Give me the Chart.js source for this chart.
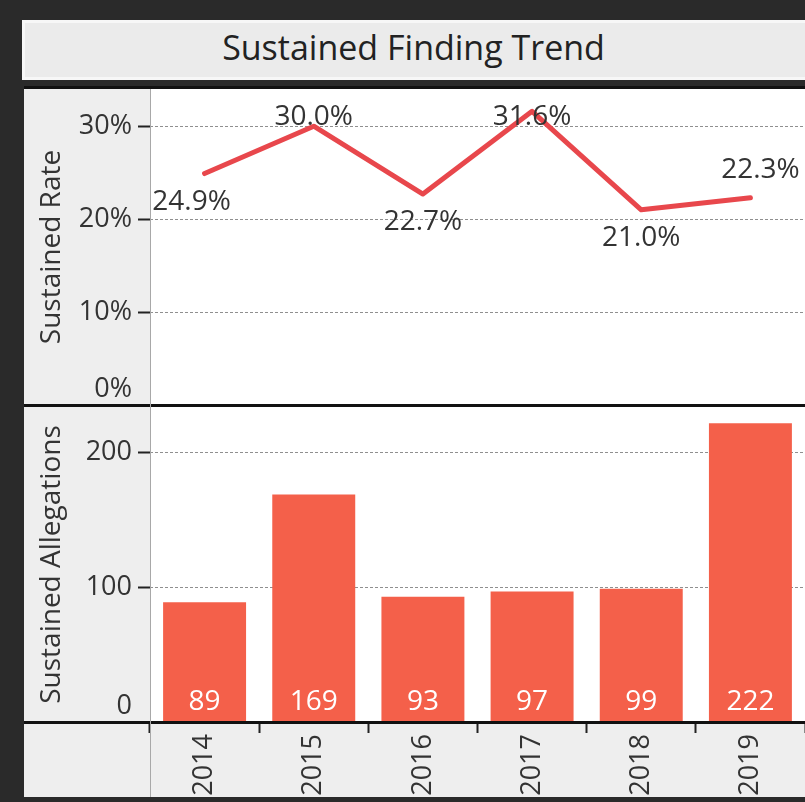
<!DOCTYPE html>
<html>
<head>
<meta charset="utf-8">
<script src="https://cdn.jsdelivr.net/npm/chart.js@4.4.1/dist/chart.umd.min.js"></script>
<style>
  html, body { margin: 0; padding: 0; width: 100%; height: 100%; overflow: hidden; background: #2a2a2a; }
  body { position: relative; font-family: "Open Sans", sans-serif; }
  .title { position: absolute; left: 22px; top: 20px; width: 820px; height: 60px; box-sizing: border-box;
           background: #ebebeb; border: 3px solid #f7f7f7; border-right: none;
           text-align: left; font-size: 34px; line-height: 48px; color: #222; white-space: nowrap; }
  .title span { display: inline-block; width: 783px; text-align: center; margin-left: -3px; }
  .panel { position: absolute; left: 24px; top: 86px; width: 820px; height: 711px; background: #eeeeee; }
  .box { position: absolute; left: 25px; width: 780px; }
  #top-box { top: 89px; height: 316px; }
  #bottom-box { top: 407px; height: 390px; }
  .rule { position: absolute; left: 24px; width: 820px; height: 3px; background: #111; z-index: 2; }
  .vline { position: absolute; left: 150px; top: 89px; width: 1px; height: 708px; background: #a8a8a8; z-index: 2; }
</style>
</head>
<body>
<div class="title"><span>Sustained Finding Trend</span></div>
<div class="panel"></div>
<div class="box" id="top-box"><canvas id="rate-chart"></canvas></div>
<div class="box" id="bottom-box"><canvas id="count-chart"></canvas></div>
<div class="rule" style="top:86px"></div>
<div class="rule" style="top:404px"></div>
<div class="rule" style="top:721px"></div>
<div class="vline"></div>
<script>
// ── data
const years = ['2014', '2015', '2016', '2017', '2018', '2019'];
const sustainedRate = [24.9, 30.0, 22.7, 31.6, 21.0, 22.3];
const sustainedCount = [89, 169, 93, 97, 99, 222];
const rateTicks = [0, 10, 20, 30];
const countTicks = [0, 100, 200];

const FONT = '"Open Sans", sans-serif';
const LINE_RED = '#e8474c';
const BAR_RED = '#f4604a';
const TEXT = '#333';
const AXIS_W = 125;

// hide the zero gridline / tick (the black rule sits there)
const notZero = (c, col) => (c.tick && c.tick.value === 0) ? 'rgba(0,0,0,0)' : col;

// white plot area on the grey panel
const plotBg = {
  id: 'plotBg',
  beforeDraw(chart) {
    const { ctx, chartArea: a } = chart;
    ctx.save();
    ctx.fillStyle = '#fff';
    ctx.fillRect(a.left, a.top, a.right - a.left, a.bottom - a.top);
    ctx.restore();
  }
};

// y tick labels, kept inside the plot height like the original
const yLabels = {
  id: 'yLabels',
  afterDraw(chart, args, opts) {
    const s = chart.scales.y, a = chart.chartArea, ctx = chart.ctx;
    ctx.save();
    ctx.font = '27px ' + FONT;
    ctx.fillStyle = TEXT;
    ctx.textAlign = 'right';
    ctx.textBaseline = 'middle';
    s.ticks.forEach(t => {
      const y = Math.min(s.getPixelForValue(t.value), a.bottom - 16);
      ctx.fillText(opts.format(t.value), a.left - 18, y);
    });
    ctx.restore();
  }
};

// rate labels: above peaks, below dips; end labels nudged away from the line
const lineLabels = {
  id: 'lineLabels',
  afterDatasetsDraw(chart) {
    const { ctx, chartArea: a } = chart;
    const pts = chart.getDatasetMeta(0).data;
    const vals = chart.data.datasets[0].data;
    const last = vals.length - 1;
    ctx.save();
    ctx.font = '28px ' + FONT;
    ctx.fillStyle = TEXT;
    ctx.textAlign = 'center';
    ctx.textBaseline = 'middle';
    pts.forEach((p, i) => {
      const nb = [vals[i - 1], vals[i + 1]].filter(v => v !== undefined);
      const avg = nb.reduce((s, v) => s + v, 0) / nb.length;
      const y = vals[i] > avg ? Math.max(p.y - 28, a.top + 28) : p.y + 28;
      const dx = i === 0 ? -13 : (i === last ? 10 : 0);
      ctx.fillText(vals[i].toFixed(1) + '%', p.x + dx, y);
    });
    ctx.restore();
  }
};

// counts written in white at the foot of each bar
const barLabels = {
  id: 'barLabels',
  afterDatasetsDraw(chart) {
    const ctx = chart.ctx;
    const vals = chart.data.datasets[0].data;
    ctx.save();
    ctx.font = '28px ' + FONT;
    ctx.fillStyle = '#fff';
    ctx.textAlign = 'center';
    ctx.textBaseline = 'middle';
    chart.getDatasetMeta(0).data.forEach((bar, i) => {
      ctx.fillText(String(vals[i]), bar.x, bar.base - 19);
    });
    ctx.restore();
  }
};

function yAxis(max, ticks, title) {
  return {
    min: 0,
    max: max,
    afterBuildTicks: s => { s.ticks = ticks.map(v => ({ value: v })); },
    afterFit: s => { s.width = AXIS_W; },
    ticks: { display: false },
    grid: {
      color: c => notZero(c, '#8f8f8f'),
      lineWidth: 1,
      tickLength: 12,
      tickWidth: 2,
      tickColor: c => notZero(c, '#222')
    },
    border: { display: false, dash: [3, 2] },
    title: { display: true, text: title, color: TEXT, font: { family: FONT, size: 28 }, padding: { top: 10, bottom: 0 } }
  };
}

Chart.defaults.font.family = FONT;

new Chart(document.getElementById('rate-chart'), {
  type: 'line',
  data: {
    labels: years,
    datasets: [{
      data: sustainedRate,
      borderColor: LINE_RED,
      backgroundColor: LINE_RED,
      borderWidth: 5,
      pointRadius: 0,
      borderJoinStyle: 'round',
      borderCapStyle: 'round',
      tension: 0,
      clip: false
    }]
  },
  options: {
    responsive: true,
    maintainAspectRatio: false,
    animation: false,
    layout: { padding: 0, autoPadding: false },
    plugins: {
      legend: { display: false },
      tooltip: { enabled: false },
      yLabels: { format: v => v + '%' }
    },
    scales: {
      x: { type: 'category', offset: true, display: false },
      y: yAxis(34, rateTicks, 'Sustained Rate')
    }
  },
  plugins: [plotBg, yLabels, lineLabels]
});

new Chart(document.getElementById('count-chart'), {
  type: 'bar',
  data: {
    labels: years,
    datasets: [{
      data: sustainedCount,
      backgroundColor: BAR_RED,
      categoryPercentage: 1,
      barPercentage: 0.76
    }]
  },
  options: {
    responsive: true,
    maintainAspectRatio: false,
    animation: false,
    layout: { padding: 0, autoPadding: false },
    plugins: {
      legend: { display: false },
      tooltip: { enabled: false },
      yLabels: { format: v => String(v) }
    },
    scales: {
      x: {
        offset: true,
        afterFit: s => { s.height = 75; },
        grid: { offset: true, drawOnChartArea: false, tickLength: 11, tickWidth: 2, tickColor: '#222' },
        border: { display: false },
        ticks: { minRotation: 90, maxRotation: 90, autoSkip: false, padding: 1, color: TEXT, font: { family: FONT, size: 27 } }
      },
      y: yAxis(234, countTicks, 'Sustained Allegations')
    }
  },
  plugins: [plotBg, yLabels, barLabels]
});
</script>
</body>
</html>
